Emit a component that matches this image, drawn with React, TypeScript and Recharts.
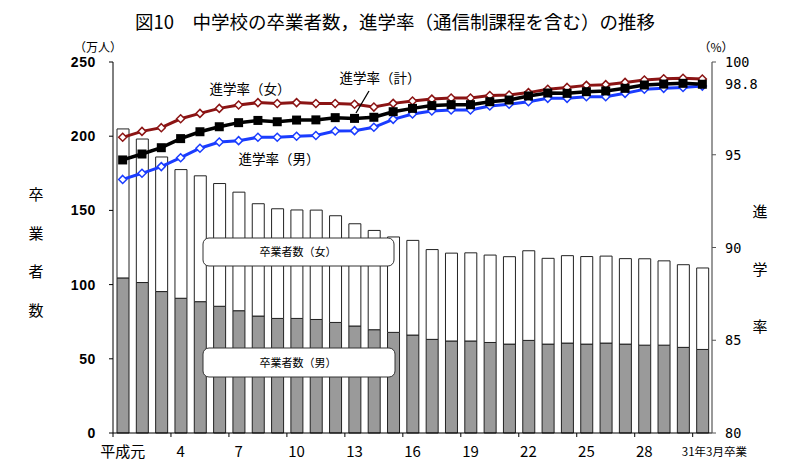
import React from 'react';
import { ComposedChart, Bar, Line, XAxis, YAxis } from 'recharts';

const categories = ['平成元','2','3','4','5','6','7','8','9','10','11','12','13','14','15','16','17','18','19','20','21','22','23','24','25','26','27','28','29','30','31年3月卒業'];
const maleGrad = [104.5,101.4,95.3,90.8,88.5,85.4,82.4,78.8,77.2,77.2,76.5,74.5,72.1,69.6,67.8,66.0,63.1,62.0,62.0,61.0,59.9,62.4,59.9,60.6,59.9,60.6,59.9,59.2,59.2,57.7,56.3];
const femaleGrad = [100.4,96.7,90.7,86.7,84.8,82.7,79.9,75.7,73.9,73.1,73.7,71.9,68.9,66.9,64.3,63.8,60.5,59.2,59.4,58.9,58.9,60.4,57.8,58.9,59.0,58.6,57.6,58.2,56.8,55.7,54.9];
const rateFemale = [95.94,96.26,96.46,96.94,97.23,97.5,97.68,97.81,97.76,97.81,97.76,97.76,97.72,97.57,97.77,97.9,98.0,98.06,98.06,98.19,98.22,98.35,98.53,98.63,98.74,98.78,98.9,99.03,99.1,99.12,99.08];
const rateTotal = [94.72,95.04,95.38,95.87,96.24,96.51,96.73,96.85,96.78,96.87,96.88,97.0,96.96,97.02,97.32,97.5,97.65,97.7,97.7,97.86,97.95,98.17,98.33,98.31,98.4,98.44,98.58,98.76,98.81,98.85,98.8];
const rateMale = [93.67,94.0,94.36,94.84,95.35,95.69,95.76,95.94,95.94,96.0,96.04,96.28,96.3,96.48,96.91,97.2,97.36,97.41,97.41,97.63,97.72,97.86,98.04,98.04,98.13,98.13,98.31,98.53,98.58,98.63,98.7];
const leftTicks = [0, 50, 100, 150, 200, 250];
const rightTicks = [80, 85, 90, 95, 98.8, 100];

const data = categories.map((c, i) => ({
  name: c,
  male: maleGrad[i],
  female: femaleGrad[i],
  rf: rateFemale[i],
  rt: rateTotal[i],
  rm: rateMale[i],
}));

const W = 800;
const H = 474;
const PLOT_LEFT = 113;
const PLOT_RIGHT = 712;
const BAND = (PLOT_RIGHT - PLOT_LEFT) / categories.length;
const JP = '"Noto Sans CJK JP", "Noto Sans", sans-serif';
const MONO = '"DejaVu Sans Mono", "Liberation Mono", monospace';
const RED = '#8b1414';
const BLUE = '#1a3cff';

const Diamond = (color: string) => (props: any) => {
  const { cx, cy, index } = props;
  if (cx == null || cy == null) return null;
  const r = 4;
  return (
    <path
      key={`d-${color}-${index}`}
      d={`M${cx},${cy - r} L${cx + r},${cy} L${cx},${cy + r} L${cx - r},${cy} Z`}
      fill="#fff"
      stroke={color}
      strokeWidth={1.5}
    />
  );
};

const SquareDot = (props: any) => {
  const { cx, cy, index } = props;
  if (cx == null || cy == null) return null;
  return <rect key={`s-${index}`} x={cx - 4.5} y={cy - 4.5} width={9} height={9} fill="#000" />;
};

const XTick = (props: any) => {
  const { x, y, payload } = props;
  const last = payload.value === categories[categories.length - 1];
  return (
    <g>
      <line x1={x - BAND / 2} x2={x - BAND / 2} y1={y} y2={y + 4} stroke="#000" strokeWidth={1} />
      {last ? (
        <text x={x + 12} y={y + 23} textAnchor="middle" fontSize={11.5} fontFamily={JP} fill="#000">
          {payload.value}
        </text>
      ) : (
        <text x={x} y={y + 24} textAnchor="middle" fontSize={15} fontFamily={JP} fill="#000">
          {payload.value}
        </text>
      )}
    </g>
  );
};

const RightTick = (props: any) => {
  const { x, y, payload } = props;
  const isMarked = payload.value === 98.8;
  return (
    <g>
      {!isMarked && <line x1={x} x2={x + 4} y1={y} y2={y} stroke="#555" strokeWidth={1} />}
      <text x={x + 13} y={y + 5} textAnchor="start" fontSize={13.5} fontFamily={MONO} fill="#000">
        {isMarked ? '98.8' : String(payload.value)}
      </text>
    </g>
  );
};

const Overlay = () => (
  <svg width={W} height={H} style={{ position: 'absolute', left: 0, top: 0, pointerEvents: 'none' }}>
    <text x={395} y={29} textAnchor="middle" fontSize={18.5} fontFamily={JP} fill="#000">
      図10　中学校の卒業者数，進学率（通信制課程を含む）の推移
    </text>
    <text x={98} y={52} textAnchor="middle" fontSize={12} fontFamily={JP} fill="#000">（万人）</text>
    <text x={716} y={52} textAnchor="middle" fontSize={12} fontFamily={JP} fill="#000">（%）</text>
    {['卒', '業', '者', '数'].map((c, i) => (
      <text key={c} x={36} y={200 + i * 38.5} textAnchor="middle" fontSize={15} fontFamily={JP} fill="#000">{c}</text>
    ))}
    {['進', '学', '率'].map((c, i) => (
      <text key={c} x={760} y={217 + i * 57.5} textAnchor="middle" fontSize={15} fontFamily={JP} fill="#000">{c}</text>
    ))}
    <text x={250} y={94} textAnchor="middle" fontSize={13.5} fontFamily={JP} fill="#000">進学率（女）</text>
    <text x={380} y={83} textAnchor="middle" fontSize={13.5} fontFamily={JP} fill="#000">進学率（計）</text>
    <text x={279} y={164} textAnchor="middle" fontSize={13.5} fontFamily={JP} fill="#000">進学率（男）</text>
    <line x1={369} y1={91} x2={356} y2={113} stroke="#000" strokeWidth={1.3} />
    <rect x={203} y={238} width={191} height={28} rx={6} ry={6} fill="#fff" stroke="#333" strokeWidth={1} />
    <text x={298} y={256} textAnchor="middle" fontSize={11} fontFamily={JP} fill="#000">卒業者数（女）</text>
    <rect x={203} y={348} width={192} height={29} rx={6} ry={6} fill="#fff" stroke="#333" strokeWidth={1} />
    <text x={298} y={367} textAnchor="middle" fontSize={11} fontFamily={JP} fill="#000">卒業者数（男）</text>
  </svg>
);

export default function App() {
  return (
    <div style={{ position: 'absolute', left: 0, top: 0, width: W, height: H, background: '#fff' }}>
      <ComposedChart width={W} height={H} data={data} margin={{ top: 62, right: 28, bottom: 11, left: 53 }}>
        <XAxis
          dataKey="name"
          xAxisId="x"
          interval={2}
          height={30}
          tickLine={false}
          tickSize={0}
          tickMargin={0}
          axisLine={{ stroke: '#000', strokeWidth: 1 }}
          tick={<XTick />}
        />
        <YAxis
          yAxisId="left"
          orientation="left"
          width={60}
          domain={[0, 250]}
          ticks={leftTicks}
          interval={0}
          tickSize={4}
          tickMargin={13}
          axisLine={{ stroke: '#000', strokeWidth: 1 }}
          tickLine={{ stroke: '#000' }}
          tick={{ fontSize: 14, fill: '#000', fontFamily: '"Liberation Sans", Arial, sans-serif', fontWeight: 'bold', letterSpacing: 0.6 }}
        />
        <YAxis
          yAxisId="right"
          orientation="right"
          width={60}
          domain={[80, 100]}
          ticks={rightTicks}
          interval={0}
          tickLine={false}
          tickSize={0}
          tickMargin={0}
          axisLine={{ stroke: '#555', strokeWidth: 1.2 }}
          tick={<RightTick />}
        />
        <Bar xAxisId="x" yAxisId="left" dataKey="male" stackId="g" barSize={12} fill="#9a9a9a" stroke="#222" strokeWidth={1} isAnimationActive={false} />
        <Bar xAxisId="x" yAxisId="left" dataKey="female" stackId="g" barSize={12} fill="#ffffff" stroke="#222" strokeWidth={1} isAnimationActive={false} />
        <Line xAxisId="x" yAxisId="right" dataKey="rf" stroke={RED} strokeWidth={3} dot={Diamond(RED)} activeDot={false} isAnimationActive={false} />
        <Line xAxisId="x" yAxisId="right" dataKey="rm" stroke={BLUE} strokeWidth={3} dot={Diamond(BLUE)} activeDot={false} isAnimationActive={false} />
        <Line xAxisId="x" yAxisId="right" dataKey="rt" stroke="#000" strokeWidth={3.5} dot={<SquareDot />} activeDot={false} isAnimationActive={false} />
      </ComposedChart>
      <Overlay />
    </div>
  );
}
